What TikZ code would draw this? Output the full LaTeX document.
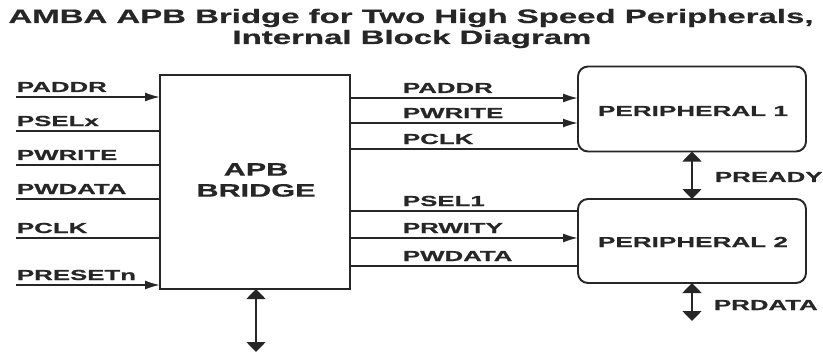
\documentclass[tikz,border=0pt]{standalone}
\usepackage{fontspec}
\setmainfont{Liberation Sans}[BoldFeatures={FakeBold=0.5}]
\usetikzlibrary{arrows.meta}
\definecolor{ink}{HTML}{262626}
\newcommand{\sx}[2]{\scalebox{#1}[1]{#2}}
\begin{document}
\begin{tikzpicture}[x=1pt,y=-1pt,
  every node/.style={inner sep=0pt,outer sep=0pt},
  wire/.style={draw=ink,line width=1.7pt},
  arr/.style={wire,-{Latex[length=15pt,width=9pt]}},
  darr/.style={wire,{Triangle[length=10pt,width=19pt]}-{Triangle[length=10pt,width=19pt]}},
  lbl/.style={anchor=base west,text=ink,font=\fontsize{14.5}{16}\selectfont\bfseries},
  blk/.style={draw=ink,line width=1.9pt,fill=white}]
\useasboundingbox (0,0) rectangle (823,353);
% title
\node[anchor=base,text=ink,font=\fontsize{19.5}{22}\selectfont\bfseries] (t1) at (411,23) {\sx{1.69}{AMBA APB Bridge for Two High Speed Peripherals,}};
\node[anchor=base,text=ink,font=\fontsize{19.5}{22}\selectfont\bfseries] (t2) at (412,44) {\sx{1.69}{Internal Block Diagram}};
% blocks
\draw[blk] (160,75) rectangle (350,289);
\node (br) at (255,75) [minimum width=190pt,minimum height=214pt,anchor=north] {};
\node[text=ink,font=\fontsize{18}{20}\selectfont\bfseries,align=center] (brt) at (256,180) {\sx{1.7}{APB}\\[1pt]\sx{1.7}{BRIDGE}};
\node[blk,rounded corners=10pt,minimum width=228pt,minimum height=85pt] (p1) at (692,109) {};
\node[text=ink,font=\fontsize{14.5}{16}\selectfont\bfseries] (p1t) at (693,111) {\sx{1.8}{PERIPHERAL 1}};
\node[blk,rounded corners=10pt,minimum width=228pt,minimum height=84pt] (p2) at (692,241) {};
\node[text=ink,font=\fontsize{14.5}{16}\selectfont\bfseries] (p2t) at (693,242) {\sx{1.8}{PERIPHERAL 2}};
% left inputs
\foreach \n/\y/\t in {a/97/PADDR,b/131/PSELx,c/165/PWRITE,d/199/PWDATA,e/238/PCLK,f/285/PRESETn}{
  \coordinate (in\n) at (16,\y);
  \node[lbl] (li\n) at (17,\y-5) {\sx{1.78}{\t}};
}
\draw[arr] (ina) -- (ina -| br.west);
\draw[wire] (inb) -- (inb -| br.west);
\draw[wire] (inc) -- (inc -| br.west);
\draw[wire] (ind) -- (ind -| br.west);
\draw[wire] (ine) -- (ine -| br.west);
\draw[arr] (inf) -- (inf -| br.west);
% right side signals
\foreach \n/\y/\t in {a/98/PADDR,b/123/PWRITE,c/149/PCLK,d/211/PSEL1,e/238/PRWITY,f/266/PWDATA}{
  \coordinate (o\n) at (350,\y);
  \node[lbl] (ro\n) at (403,\y-5) {\sx{1.78}{\t}};
}
\draw[arr] (oa) -- (oa -| p1.west);
\draw[arr] (ob) -- (ob -| p1.west);
\draw[wire] (oc) -- (oc -| p1.west);
\draw[wire] (od) -- (od -| p2.west);
\draw[arr] (oe) -- (oe -| p2.west);
\draw[wire] (of) -- (of -| p2.west);
% vertical arrows
\coordinate (bb) at (256,289);
\coordinate (bbe) at (256,352);
\draw[darr] (bb) -- (bbe);
\draw[darr] (p1.south -| 692,0) -- (p2.north -| 692,0);
\node[lbl] (pr) at (715,182) {\sx{1.78}{PREADY}};
\coordinate (prd) at (692,321);
\draw[darr] (p2.south -| 692,0) -- (prd);
\node[lbl] (prdl) at (714,310) {\sx{1.78}{PRDATA}};
\end{tikzpicture}
\end{document}
